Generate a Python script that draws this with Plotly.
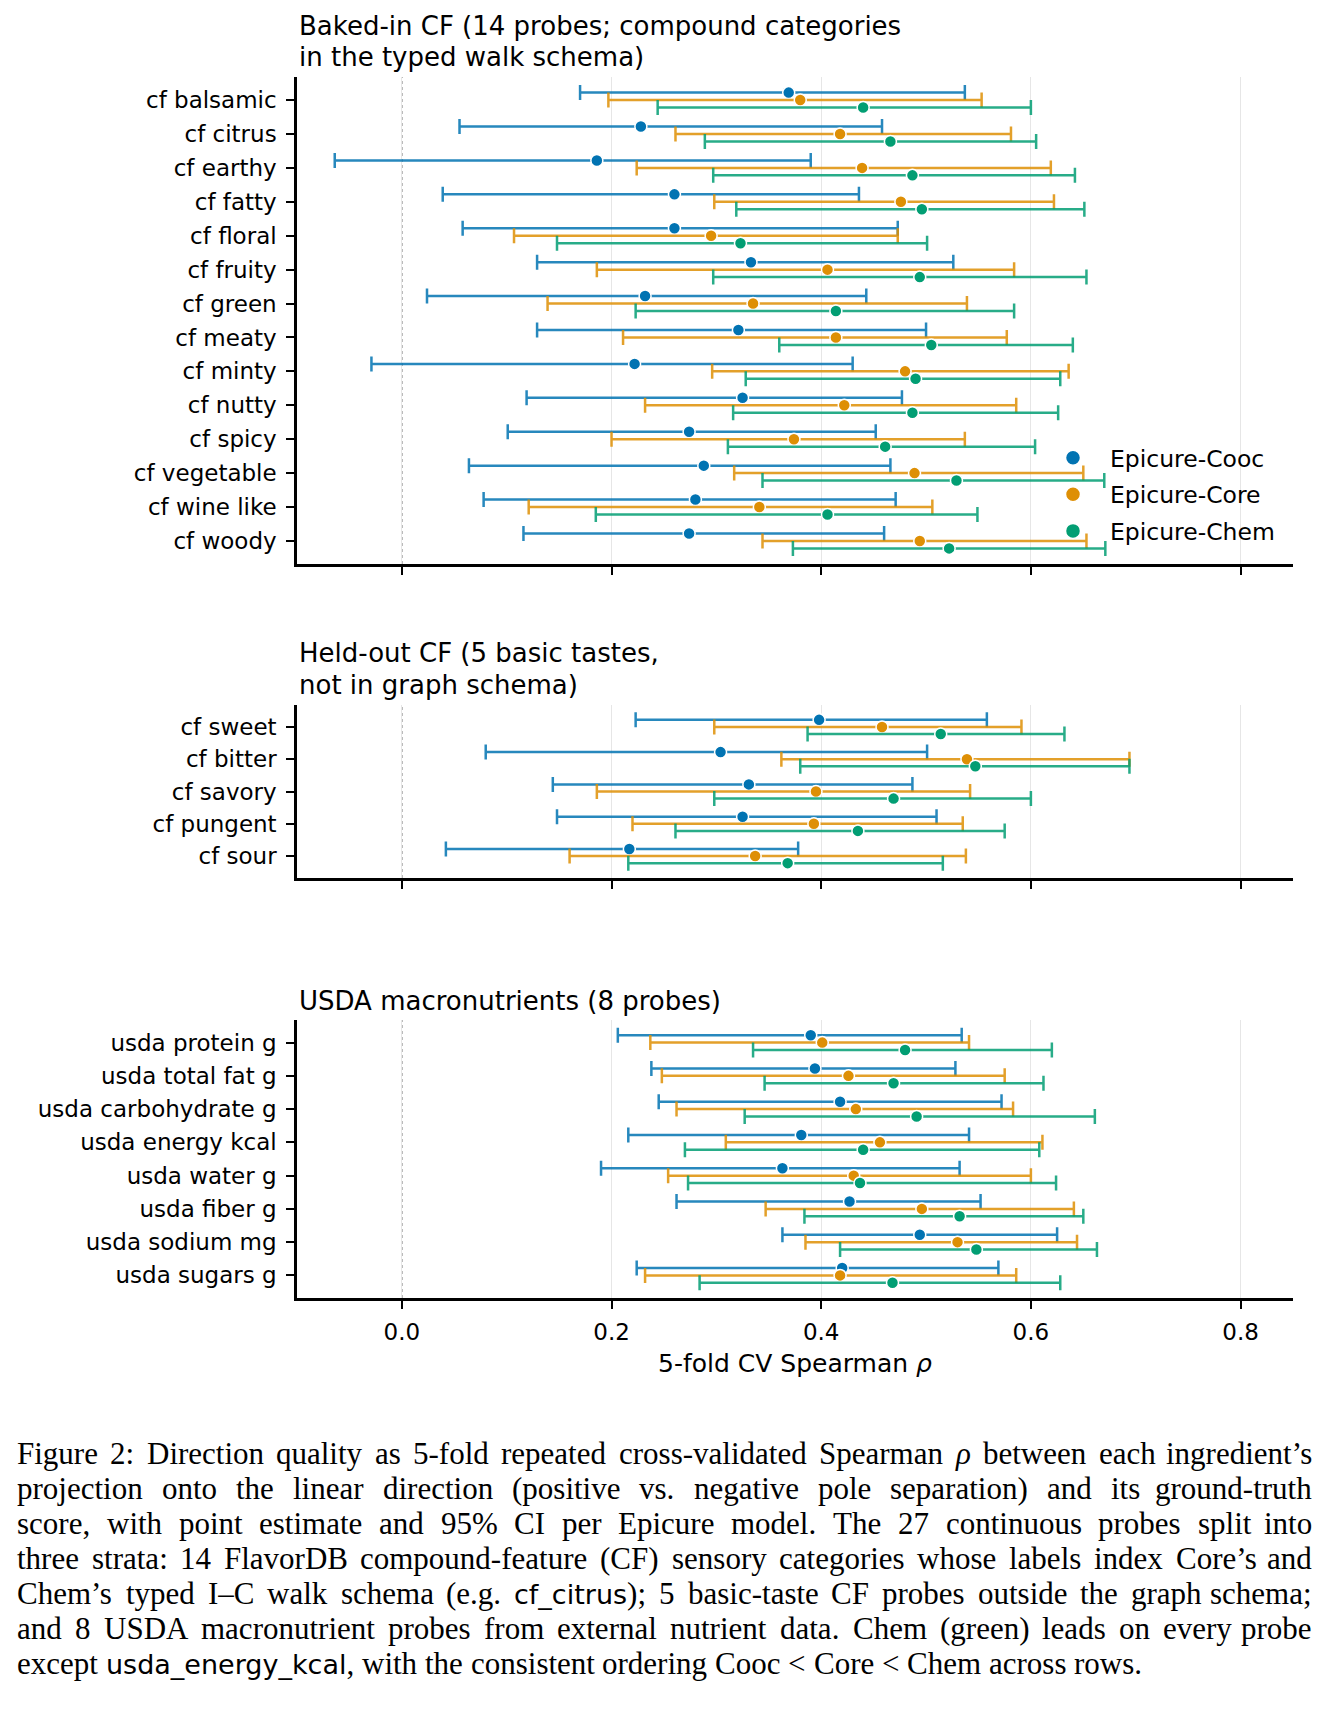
import re
import plotly.graph_objects as go

# ---- data ----
baked_labels = ["cf balsamic", "cf citrus", "cf earthy", "cf fatty", "cf floral", "cf fruity", "cf green",
                "cf meaty", "cf minty", "cf nutty", "cf spicy", "cf vegetable", "cf wine like", "cf woody"]
baked_cooc = [0.369, 0.228, 0.186, 0.260, 0.260, 0.333, 0.232, 0.321, 0.222, 0.325, 0.274, 0.288, 0.280, 0.274]
baked_cooc_lo = [0.170, 0.055, -0.064, 0.039, 0.058, 0.129, 0.024, 0.129, -0.029, 0.119, 0.101, 0.064, 0.078, 0.116]
baked_cooc_hi = [0.537, 0.458, 0.390, 0.436, 0.473, 0.526, 0.443, 0.500, 0.430, 0.477, 0.452, 0.466, 0.471, 0.460]
baked_core = [0.380, 0.418, 0.439, 0.476, 0.295, 0.406, 0.335, 0.414, 0.480, 0.422, 0.374, 0.489, 0.341, 0.494]
baked_core_lo = [0.197, 0.261, 0.224, 0.298, 0.107, 0.186, 0.139, 0.211, 0.296, 0.232, 0.200, 0.317, 0.121, 0.344]
baked_core_hi = [0.553, 0.581, 0.619, 0.622, 0.473, 0.584, 0.539, 0.577, 0.636, 0.586, 0.537, 0.650, 0.506, 0.653]
baked_chem = [0.440, 0.466, 0.487, 0.496, 0.323, 0.494, 0.414, 0.505, 0.490, 0.487, 0.461, 0.529, 0.406, 0.522]
baked_chem_lo = [0.244, 0.289, 0.297, 0.319, 0.148, 0.297, 0.223, 0.360, 0.328, 0.316, 0.311, 0.344, 0.185, 0.373]
baked_chem_hi = [0.600, 0.605, 0.642, 0.651, 0.501, 0.653, 0.584, 0.640, 0.628, 0.626, 0.604, 0.670, 0.549, 0.671]

heldout_labels = ["cf sweet", "cf bitter", "cf savory", "cf pungent", "cf sour"]
heldout_cooc = [0.398, 0.304, 0.331, 0.325, 0.217]
heldout_cooc_lo = [0.223, 0.080, 0.144, 0.148, 0.042]
heldout_cooc_hi = [0.558, 0.501, 0.487, 0.510, 0.378]
heldout_core = [0.458, 0.539, 0.395, 0.393, 0.337]
heldout_core_lo = [0.298, 0.362, 0.186, 0.220, 0.160]
heldout_core_hi = [0.591, 0.694, 0.542, 0.535, 0.538]
heldout_chem = [0.514, 0.547, 0.469, 0.435, 0.368]
heldout_chem_lo = [0.387, 0.380, 0.298, 0.261, 0.216]
heldout_chem_hi = [0.632, 0.694, 0.600, 0.575, 0.516]

usda_labels = ["usda protein g", "usda total fat g", "usda carbohydrate g", "usda energy kcal",
               "usda water g", "usda fiber g", "usda sodium mg", "usda sugars g"]
usda_cooc = [0.390, 0.394, 0.418, 0.381, 0.363, 0.427, 0.494, 0.420]
usda_cooc_lo = [0.206, 0.238, 0.245, 0.216, 0.190, 0.262, 0.363, 0.224]
usda_cooc_hi = [0.534, 0.528, 0.572, 0.541, 0.532, 0.552, 0.625, 0.569]
usda_core = [0.401, 0.426, 0.433, 0.456, 0.431, 0.496, 0.530, 0.418]
usda_core_lo = [0.237, 0.248, 0.262, 0.309, 0.254, 0.347, 0.385, 0.232]
usda_core_hi = [0.541, 0.575, 0.583, 0.611, 0.600, 0.641, 0.644, 0.586]
usda_chem = [0.480, 0.469, 0.491, 0.440, 0.437, 0.532, 0.548, 0.468]
usda_chem_lo = [0.335, 0.346, 0.327, 0.270, 0.273, 0.384, 0.418, 0.284]
usda_chem_hi = [0.620, 0.612, 0.661, 0.608, 0.624, 0.650, 0.663, 0.628]

model_names = ["Epicure-Cooc", "Epicure-Core", "Epicure-Chem"]
x_ticks = [0.0, 0.2, 0.4, 0.6, 0.8]

# caption, one entry per printed line; {..} = typewriter, *..* = italic
caption_lines = [
    "Figure 2: Direction quality as 5-fold repeated cross-validated Spearman *ρ* between each ingredient’s",
    "projection onto the linear direction (positive vs. negative pole separation) and its ground-truth",
    "score, with point estimate and 95% CI per Epicure model. The 27 continuous probes split into",
    "three strata: 14 FlavorDB compound-feature (CF) sensory categories whose labels index Core’s and",
    "Chem’s typed I–C walk schema (e.g. {cf_citrus}); 5 basic-taste CF probes outside the graph schema;",
    "and 8 USDA macronutrient probes from external nutrient data. Chem (green) leads on every probe",
    "except {usda_energy_kcal}, with the consistent ordering Cooc < Core < Chem across rows.",
]

# ---- styling ----
OFF = 8                      # the page body margin the figure sits inside
WF, HF = 1329 - 2 * OFF, 1711 - 2 * OFF
SANS = "DejaVu Sans"
SERIF = "Liberation Serif"
CAP_SIZE = 31
TT_SIZE = 27
colors = [(1, 115, 178), (222, 143, 5), (2, 158, 115)]
offsets = [-0.22, 0.0, 0.22]


def fx(px):
    return (px - OFF) / WF


def fy(px):
    return 1 - (px - OFF) / HF


panels = [
    dict(labels=baked_labels,
         series=[(baked_cooc, baked_cooc_lo, baked_cooc_hi),
                 (baked_core, baked_core_lo, baked_core_hi),
                 (baked_chem, baked_chem_lo, baked_chem_hi)],
         top=77, bottom=564,
         title=["Baked-in CF (14 probes; compound categories", "in the typed walk schema)"],
         title_y=[26, 57]),
    dict(labels=heldout_labels,
         series=[(heldout_cooc, heldout_cooc_lo, heldout_cooc_hi),
                 (heldout_core, heldout_core_lo, heldout_core_hi),
                 (heldout_chem, heldout_chem_lo, heldout_chem_hi)],
         top=705, bottom=878,
         title=["Held-out CF (5 basic tastes,", "not in graph schema)"],
         title_y=[653, 685]),
    dict(labels=usda_labels,
         series=[(usda_cooc, usda_cooc_lo, usda_cooc_hi),
                 (usda_core, usda_core_lo, usda_core_hi),
                 (usda_chem, usda_chem_lo, usda_chem_hi)],
         top=1020, bottom=1298,
         title=["USDA macronutrients (8 probes)"],
         title_y=[1001]),
]

x_left, x_right = 297, 1293

fig = go.Figure()
annotations = []
shapes = []

for p, panel in enumerate(panels):
    ax = "" if p == 0 else str(p + 1)
    n = len(panel["labels"])
    for m, (pt, lo, hi) in enumerate(panel["series"]):
        r, g, b = colors[m]
        fig.add_trace(go.Scatter(
            x=pt,
            y=[i + offsets[m] for i in range(n)],
            mode="markers",
            name=model_names[m],
            showlegend=False,
            marker=dict(size=12, color=f"rgb({r},{g},{b})", line=dict(color="white", width=1.5)),
            error_x=dict(type="data", symmetric=False,
                         array=[h - v for h, v in zip(hi, pt)],
                         arrayminus=[v - l for v, l in zip(pt, lo)],
                         color=f"rgba({r},{g},{b},0.85)", thickness=2.5, width=7.5),
            xaxis="x" + ax, yaxis="y" + ax,
        ))

    fig.update_layout(**{
        "xaxis" + ax: dict(
            domain=[fx(x_left), fx(x_right)], anchor="y" + ax, range=[-0.1, 0.85], automargin=False,
            tickvals=x_ticks, ticktext=[f"{t:.1f}" for t in x_ticks],
            showticklabels=(p == 2), ticks="outside", ticklen=8, tickwidth=2, tickcolor="black",
            ticklabelstandoff=4,
            showline=True, linecolor="black", linewidth=2.5,
            showgrid=True, gridcolor="#e6e6e6", gridwidth=1, zeroline=False,
            tickfont=dict(family=SANS, size=23, color="black"),
            title=dict(text="5-fold CV Spearman <i>ρ</i>", font=dict(family=SANS, size=25, color="black"),
                       standoff=11) if p == 2 else None,
        ),
        "yaxis" + ax: dict(
            domain=[fy(panel["bottom"]), fy(panel["top"])], anchor="x" + ax,
            range=[n - 1 + 0.68, -0.68], automargin=False,
            tickvals=list(range(n)), ticktext=panel["labels"],
            ticks="outside", ticklen=8, tickwidth=2, tickcolor="black", ticklabelstandoff=5,
            showline=True, linecolor="black", linewidth=2.5,
            showgrid=False, zeroline=False,
            tickfont=dict(family=SANS, size=23, color="black"),
        ),
    })

    # dotted reference line at rho = 0
    shapes.append(dict(type="line", xref="x" + ax, yref=f"y{ax} domain",
                       x0=0, x1=0, y0=0, y1=1,
                       line=dict(color="#8c8c8c", width=1.5, dash="dot"), layer="below"))

    for text, yc in zip(panel["title"], panel["title_y"]):
        annotations.append(dict(text=text, xref="paper", yref="paper",
                                x=fx(x_left), y=fy(yc), xanchor="left", yanchor="middle",
                                showarrow=False, font=dict(family=SANS, size=26, color="black")))

# legend entries (bigger markers than in the panels, as in the original)
for m, name in enumerate(model_names):
    r, g, b = colors[m]
    fig.add_trace(go.Scatter(x=[None], y=[None], mode="markers", name=name, legendgroup=name,
                             marker=dict(size=15, color=f"rgb({r},{g},{b})", line=dict(color="white", width=1.5))))

# ---- caption, justified word by word like the LaTeX original ----
serif_w = {" ": 250, "’": 333, "(": 333, ")": 333, ",": 250, "-": 333, ".": 250, ":": 278, ";": 278,
           "<": 564, "%": 833, "–": 500, "ρ": 500}
serif_w.update({d: 500 for d in "0123456789"})
serif_w.update(dict(zip("ABCDEFGHIJKLMNOPQRSTUVWXYZ",
                        [722, 667, 667, 722, 611, 556, 722, 722, 333, 389, 722, 611, 889,
                         722, 722, 556, 722, 667, 556, 611, 722, 722, 944, 722, 722, 611])))
serif_w.update(dict(zip("abcdefghijklmnopqrstuvwxyz",
                        [444, 500, 444, 500, 444, 333, 500, 500, 278, 278, 500, 278, 778,
                         500, 500, 500, 500, 333, 389, 278, 500, 500, 722, 500, 500, 444])))
sans_w = {"c": 550, "f": 352, "_": 500, "i": 278, "t": 392, "r": 411, "u": 634, "s": 521, "d": 635,
          "a": 613, "e": 615, "n": 634, "g": 635, "y": 592, "k": 579, "l": 278}


def word_html_and_width(word):
    html, width = "", 0.0
    for piece in re.split(r"(\{[^}]*\}|\*[^*]*\*)", word):
        if not piece:
            continue
        if piece.startswith("{"):
            body = piece[1:-1]
            html += f'<span style="font-family:{SANS};font-size:{TT_SIZE}px">{body}</span>'
            width += sum(sans_w.get(ch, 600) for ch in body) * TT_SIZE / 1000
        elif piece.startswith("*"):
            body = piece[1:-1]
            html += f"<i>{body}</i>"
            width += sum(serif_w.get(ch, 500) for ch in body) * CAP_SIZE / 1000
        else:
            html += piece.replace("<", "&lt;")
            width += sum(serif_w.get(ch, 500) for ch in piece) * CAP_SIZE / 1000
    return html, width


cap_left, cap_right = 15, 1314
for i, line in enumerate(caption_lines):
    words = [word_html_and_width(w) for w in line.split()]
    last = i == len(caption_lines) - 1
    if last:
        gap = serif_w[" "] * CAP_SIZE / 1000
    else:
        gap = (cap_right - cap_left - sum(w for _, w in words)) / (len(words) - 1)
    yc = fy(1453 + 35 * i)
    xpos = cap_left
    for j, (html, width) in enumerate(words):
        if j == len(words) - 1 and not last:
            x, anchor = cap_right, "right"
        else:
            x, anchor = xpos, "left"
        annotations.append(dict(text=html, xref="paper", yref="paper", x=fx(x), y=yc,
                                xanchor=anchor, yanchor="middle", showarrow=False,
                                font=dict(family=SERIF, size=CAP_SIZE, color="black")))
        xpos += width + gap

fig.update_layout(
    width=WF, height=HF, autosize=False,
    margin=dict(l=0, r=0, t=0, b=0, pad=0),
    paper_bgcolor="white", plot_bgcolor="white",
    annotations=annotations, shapes=shapes,
    legend=dict(x=fx(1036), y=fy(436), xanchor="left", yanchor="top", itemwidth=64,
                bgcolor="rgba(0,0,0,0)", tracegroupgap=3,
                font=dict(family=SANS, size=23.5, color="black")),
)

fig.write_html("out.html")
